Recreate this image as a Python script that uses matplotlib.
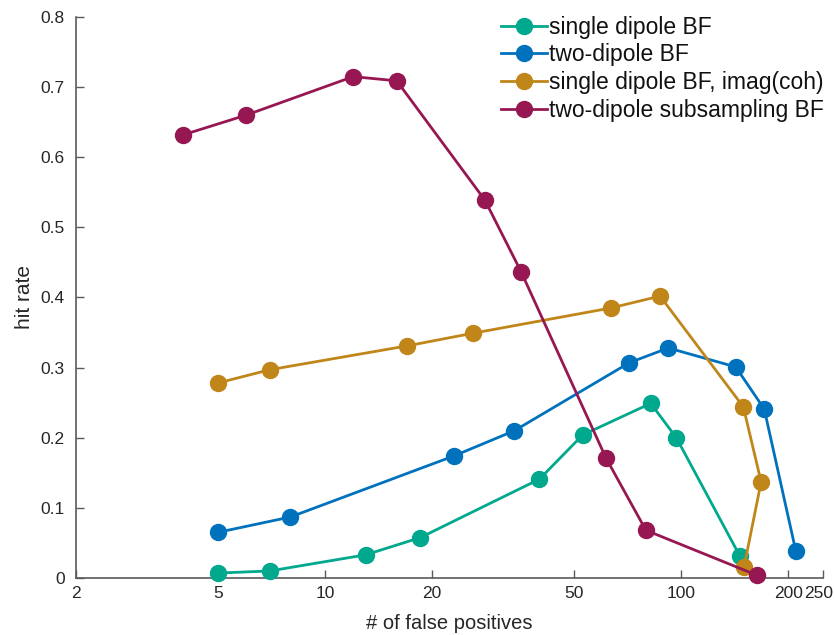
import matplotlib
matplotlib.use("Agg")
import matplotlib.pyplot as plt
import matplotlib.transforms as mtransforms
from matplotlib.ticker import FixedLocator, FixedFormatter, NullLocator

plt.rcParams['font.family'] = ['Liberation Sans', 'DejaVu Sans']

# data (x = # of false positives, y = hit rate)
single_x = [5.0, 7.0, 13.0, 18.5, 40.0, 52.9, 82.1, 96.9, 146.2]
single_y = [0.007, 0.010, 0.033, 0.0575, 0.141, 0.204, 0.249, 0.200, 0.031]

two_x = [5.0, 8.0, 23.0, 34.0, 71.5, 92.0, 142.2, 171.0, 209.6]
two_y = [0.065, 0.087, 0.174, 0.210, 0.307, 0.328, 0.301, 0.241, 0.039]

imag_x = [5.0, 7.0, 17.0, 26.0, 63.4, 87.2, 149.4, 167.6, 150.1]
imag_y = [0.278, 0.297, 0.331, 0.349, 0.385, 0.402, 0.244, 0.137, 0.016]

sub_x = [4.0, 6.0, 12.0, 15.9, 28.1, 35.5, 61.5, 79.6, 163.0]
sub_y = [0.632, 0.660, 0.715, 0.709, 0.539, 0.437, 0.171, 0.068, 0.004]

labels = ['single dipole BF', 'two-dipole BF', 'single dipole BF, imag(coh)',
          'two-dipole subsampling BF']
colors = ['#00a88e', '#0072bd', '#c0861a', '#971752']

xticks = [2, 5, 10, 20, 50, 100, 200, 250]
xticklabels = ['2', '5', '10', '20', '50', '100', '200', '250']
yticks = [0, 0.1, 0.2, 0.3, 0.4, 0.5, 0.6, 0.7, 0.8]
yticklabels = ['0', '0.1', '0.2', '0.3', '0.4', '0.5', '0.6', '0.7', '0.8']

fig = plt.figure(figsize=(8.34, 6.35), dpi=100)
ax = fig.add_axes([0.0911, 0.0898, 0.8957, 0.8834])

series = [(single_x, single_y), (two_x, two_y), (imag_x, imag_y), (sub_x, sub_y)]
for (xs, ys), lab, c in zip(series, labels, colors):
    ax.plot(xs, ys, '-o', color=c, lw=2.0, ms=11.5, label=lab, clip_on=False, zorder=3)

ax.set_xscale('log')
ax.set_xlim(2, 250)
ax.set_ylim(0, 0.8)
ax.xaxis.set_major_locator(FixedLocator(xticks))
ax.xaxis.set_major_formatter(FixedFormatter(xticklabels))
ax.xaxis.set_minor_locator(NullLocator())
ax.set_yticks(yticks)
ax.set_yticklabels(yticklabels)

for s in ['top', 'right']:
    ax.spines[s].set_visible(False)
for s in ['left', 'bottom']:
    ax.spines[s].set_color('#5a5a5a')
    ax.spines[s].set_linewidth(1.2)
ax.tick_params(direction='in', length=6, width=1.0, color='#5a5a5a',
               labelcolor='#262626', labelsize=12.5)
ax.tick_params(axis='y', pad=8)
ax.tick_params(axis='x', pad=6)

# nudge the last x tick label slightly left so it stays inside the figure
last = ax.get_xticklabels()[-1]
last.set_transform(last.get_transform() +
                   mtransforms.ScaledTranslation(-4 / 100, 0, fig.dpi_scale_trans))

ax.set_xlabel('# of false positives', fontsize=14.5, color='#262626', labelpad=9)
ax.set_ylabel('hit rate', fontsize=15, color='#262626', labelpad=5)

leg = ax.legend(loc='upper right', bbox_to_anchor=(1.0134, 1.019), frameon=False,
                fontsize=16.5, handlelength=2.0, handletextpad=0.1,
                labelspacing=0.21, borderaxespad=0.0)
for t in leg.get_texts():
    t.set_color('#111111')

fig.savefig('out.png', dpi=100)
